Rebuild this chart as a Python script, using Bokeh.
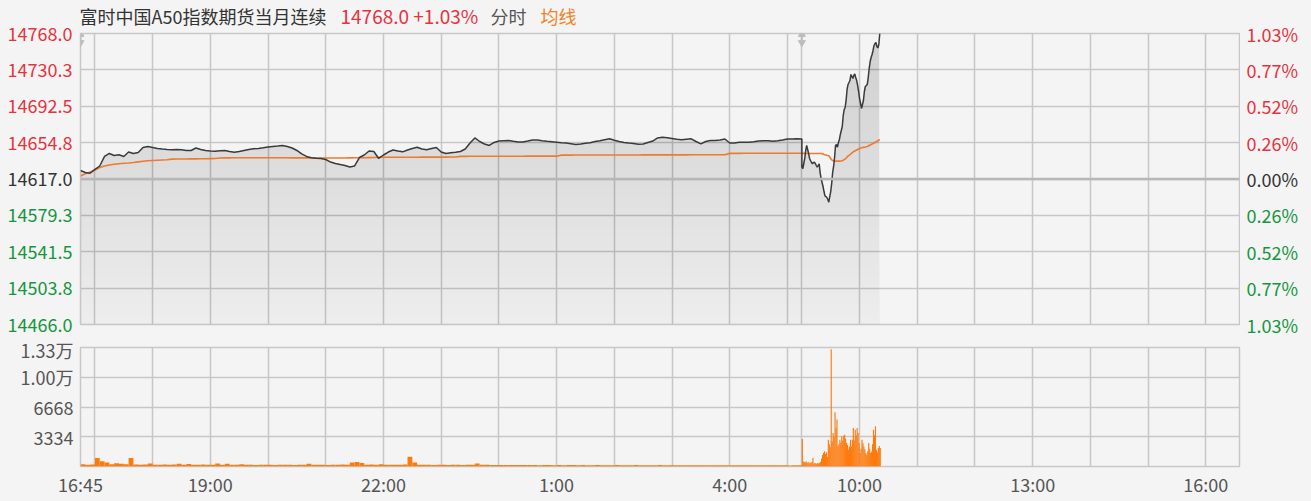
import numpy as np
from bokeh.plotting import figure
from bokeh.models import Range1d, FixedTicker, Grid, ColumnDataSource, Span
from bokeh.layouts import column, row
from bokeh.core.properties import value, field
from bokeh.embed import file_html
from bokeh.resources import INLINE

# ---------------- data ----------------
title_name = "富时中国A50指数期货当月连续"
title_quote = "14768.0 +1.03%"
title_mode = "分时"
title_avg = "均线"

base_price = 14617.0
session_end = 1205          # minutes since 16:45 (night 16:45-5:15, day 9:00-16:35)
session_break = 750

price_levels = [14466.0, 14503.75, 14541.5, 14579.25, 14617.0, 14654.75, 14692.5, 14730.25, 14768.0]
price_labels = ["14466.0", "14503.8", "14541.5", "14579.3", "14617.0", "14654.8", "14692.5", "14730.3", "14768.0"]
pct_labels = ["1.03%", "0.77%", "0.52%", "0.26%", "0.00%", "0.26%", "0.52%", "0.77%", "1.03%"]

x_tick_minutes = [0, 135, 315, 495, 675, 810, 990, 1170]
x_tick_labels = ["16:45", "19:00", "22:00", "1:00", "4:00", "10:00", "13:00", "16:00"]
grid_minutes = [15, 75, 135, 195, 255, 315, 375, 435, 495, 555, 615, 675, 735, 750,
                810, 870, 930, 990, 1050, 1110, 1170]

vol_max = 13336
vol_ticks = [3334, 6668, 10002, 13336]
vol_tick_labels = ["3334", "6668", "1.00万", "1.33万"]

# night session sampled every 5 minutes (16:45 .. 5:15)
night_minutes = list(range(0, 751, 5))
night_price = [
    14625.8, 14623.7, 14623.0, 14626.9, 14630.5, 14640.4, 14643.5, 14641.4, 14642.1, 14640.4,
    14645.0, 14643.5, 14644.5, 14649.7, 14650.7, 14649.7, 14648.7, 14648.1, 14647.6, 14647.3,
    14647.6, 14647.3, 14646.6, 14646.6, 14649.2, 14647.6, 14646.6, 14646.1, 14645.9, 14646.3,
    14646.6, 14645.5, 14644.8, 14645.5, 14646.6, 14647.6, 14648.4, 14648.7, 14649.4, 14650.2,
    14650.7, 14651.2, 14651.8, 14650.7, 14649.2, 14646.6, 14643.0, 14640.4, 14639.0, 14638.5,
    14638.3, 14637.2, 14634.6, 14633.1, 14632.0, 14631.0, 14629.5, 14630.5, 14639.3, 14641.9,
    14646.1, 14645.5, 14638.3, 14641.9, 14645.0, 14647.1, 14646.1, 14645.2, 14647.1, 14648.7,
    14649.9, 14648.1, 14647.3, 14648.7, 14649.7, 14645.0, 14643.5, 14644.2, 14644.7, 14645.5,
    14648.1, 14654.4, 14659.6, 14655.9, 14653.3, 14651.8, 14654.9, 14656.4, 14656.8, 14657.0,
    14656.1, 14655.4, 14655.4, 14656.4, 14657.5, 14657.5, 14656.8, 14656.2, 14655.7, 14655.2,
    14654.7, 14654.3, 14653.6, 14652.8, 14653.3, 14654.1, 14654.7, 14655.9, 14656.8, 14657.8,
    14658.7, 14657.2, 14655.9, 14654.9, 14654.3, 14653.8, 14653.0, 14653.3, 14654.9, 14656.4,
    14659.6, 14660.3, 14659.8, 14659.0, 14658.2, 14657.7, 14658.2, 14658.7, 14655.9, 14653.5,
    14655.9, 14657.0, 14657.0, 14657.5, 14658.5, 14654.4, 14654.4, 14655.2, 14655.2, 14655.2,
    14655.6, 14656.4, 14656.8, 14656.7, 14656.3, 14656.7, 14657.5, 14658.6, 14658.6, 14658.7,
    14658.5]
night_avg = [
    14620.1, 14622.4, 14624.3, 14626.3, 14628.9, 14630.5, 14631.5, 14632.3, 14632.9, 14633.3,
    14633.6, 14634.1, 14634.8, 14635.4, 14635.9, 14636.2, 14636.5, 14636.7, 14636.9, 14637.6,
    14637.7, 14637.8, 14637.8, 14637.9, 14637.9, 14638.0, 14638.0, 14638.1, 14638.2, 14638.8,
    14638.9, 14638.9, 14639.0, 14639.0, 14639.0, 14639.0, 14639.1, 14639.1, 14639.1, 14639.0,
    14639.0, 14639.0, 14639.0, 14639.0, 14638.9, 14638.9, 14638.9, 14638.9, 14638.8, 14638.8,
    14638.8, 14638.8, 14638.8, 14638.8, 14638.8, 14638.8, 14638.9, 14639.0, 14639.0, 14639.1,
    14639.2, 14639.3, 14639.5, 14639.5, 14639.6, 14639.6, 14639.6, 14639.6, 14639.6, 14639.6,
    14639.6, 14639.7, 14639.7, 14639.7, 14639.7, 14639.7, 14639.7, 14639.8, 14639.8, 14640.5,
    14640.5, 14640.6, 14640.6, 14640.6, 14640.6, 14640.6, 14640.6, 14640.6, 14640.6, 14640.6,
    14640.6, 14640.6, 14640.6, 14640.7, 14640.7, 14640.7, 14640.7, 14640.7, 14640.7, 14640.7,
    14641.8, 14641.8, 14641.8, 14641.9, 14641.9, 14641.9, 14641.9, 14641.9, 14641.9, 14641.9,
    14641.9, 14641.9, 14641.9, 14641.9, 14641.9, 14641.9, 14641.9, 14642.0, 14642.0, 14642.0,
    14642.0, 14642.0, 14642.0, 14642.0, 14642.0, 14642.0, 14642.0, 14642.1, 14642.1, 14642.1,
    14642.1, 14642.1, 14642.1, 14642.1, 14642.1, 14643.6, 14643.6, 14643.6, 14643.7, 14643.7,
    14643.7, 14643.7, 14643.7, 14643.7, 14643.7, 14643.7, 14643.8, 14643.8, 14643.8, 14643.8,
    14643.8]
night_vol_minutes = list(range(0, 750, 5))
night_vol = [
    250, 200, 230, 960, 590, 440, 250, 370, 300, 250,
    960, 220, 200, 230, 330, 210, 190, 220, 200, 230,
    300, 210, 280, 200, 190, 220, 200, 210, 330, 190,
    300, 200, 210, 250, 190, 200, 180, 210, 190, 200,
    180, 200, 190, 210, 180, 200, 190, 300, 200, 190,
    210, 180, 200, 190, 220, 200, 450, 500, 400, 210,
    230, 200, 250, 190, 210, 200, 190, 220, 1100, 450,
    210, 200, 190, 180, 200, 190, 180, 200, 190, 180,
    200, 190, 350, 210, 190, 180, 170, 180, 170, 160,
    170, 180, 160, 170, 160, 150, 170, 160, 150, 160,
    150, 160, 170, 150, 160, 150, 140, 160, 150, 140,
    150, 160, 150, 140, 150, 160, 140, 150, 140, 150,
    160, 150, 140, 150, 140, 130, 150, 140, 130, 140,
    150, 140, 130, 140, 150, 140, 130, 140, 130, 150,
    140, 130, 140, 150, 130, 140, 130, 120, 130, 140]

# day session every minute (9:00 .. 10:21)
day_minutes = list(range(750, 832))
day_price = [
    14629.2, 14627.9, 14633.1, 14638.3, 14646.6, 14651.8, 14647.6, 14643.5, 14638.3, 14636.2,
    14634.1, 14632.8, 14634.1, 14634.4, 14633.1, 14631.0, 14629.2, 14631.0, 14632.8, 14623.7,
    14617.5, 14613.4, 14609.2, 14604.0, 14599.4, 14598.8, 14597.8, 14595.7, 14592.9, 14598.8,
    14604.0, 14612.3, 14623.7, 14630.0, 14639.3, 14651.8, 14652.8, 14650.0, 14654.9, 14658.0,
    14663.2, 14667.3, 14671.5, 14682.9, 14689.1, 14691.2, 14698.5, 14709.9, 14715.1, 14717.1,
    14719.2, 14725.5, 14723.4, 14721.3, 14724.4, 14726.0, 14722.3, 14719.2, 14714.0, 14707.8,
    14700.5, 14695.4, 14690.2, 14694.3, 14698.5, 14707.8, 14713.0, 14714.0, 14715.1, 14722.3,
    14731.7, 14738.9, 14743.1, 14746.2, 14750.4, 14755.5, 14757.6, 14758.7, 14754.5, 14753.0,
    14756.6, 14768.0]
day_avg = [
    14643.6, 14643.6, 14643.6, 14643.6, 14643.5, 14643.5, 14643.5, 14643.5, 14643.5, 14643.5,
    14643.5, 14643.5, 14643.5, 14643.5, 14643.5, 14643.5, 14643.5, 14643.5, 14643.5, 14643.4,
    14643.4, 14643.3, 14642.9, 14642.4, 14642.1, 14641.9, 14641.6, 14641.4, 14641.1, 14639.8,
    14638.3, 14636.9, 14636.2, 14635.9, 14635.7, 14635.5, 14635.5, 14635.5, 14635.6, 14635.6,
    14635.6, 14635.7, 14635.9, 14636.5, 14637.2, 14637.8, 14638.5, 14639.8, 14640.9, 14641.4,
    14642.2, 14643.2, 14644.0, 14644.8, 14645.5, 14646.1, 14646.6, 14647.1, 14647.6, 14648.1,
    14648.7, 14649.0, 14649.4, 14649.6, 14649.8, 14650.0, 14650.2, 14650.5, 14650.7, 14651.2,
    14651.8, 14652.3, 14652.8, 14653.3, 14653.8, 14654.2, 14654.9, 14655.6, 14656.2, 14656.7,
    14657.4, 14658.0]
day_vol = [
    3080, 560, 500, 450, 600, 400, 500, 350, 450, 400,
    500, 940, 300, 400, 350, 300, 380, 350, 420, 500,
    900, 1300, 1500, 1700, 1400, 1600, 1100, 3000, 2500, 2200,
    13150, 2800, 3760, 3300, 6080, 4300, 5260, 2250, 2500, 3000,
    2700, 3380, 2900, 3450, 3570, 3100, 2630, 2400, 1880, 2200,
    3000, 2250, 3000, 4320, 2900, 4130, 3500, 4320, 3760, 2600,
    1500, 2000, 3000, 2600, 2250, 1900, 1500, 1310, 1700, 2630,
    2000, 1500, 1690, 2500, 4130, 3500, 4500, 1880, 1600, 2070,
    2300, 2070]

handle_minutes = [0, 750]

# ---------------- style ----------------
FONT = "Noto Sans CJK SC"
BG = "#f4f4f4"
GRID = "#c7c7c7"
RED = "#e5333f"
GREEN = "#16963f"
DARK = "#333333"
AXIS_TXT = "#555555"
LINE = "#3a3a3a"
AVG = "#ee7a2e"
VOLC = "#fd7b0d"
FS = "18px"

# layout geometry (pixels)
W_LEFT, W_RIGHT, W_FRAME = 80, 66, 1159
HEAD_H = 30
FRAME_TOP, FRAME_H, BOT_B = 33, 291, 12
TOP_B = FRAME_TOP - HEAD_H
PRICE_H = TOP_B + FRAME_H + BOT_B
SIDE_H = FRAME_TOP + FRAME_H + BOT_B

price_x = night_minutes + day_minutes
price_y = np.array(night_price + day_price)
avg_y = night_avg + day_avg
y_lo, y_hi = price_levels[0], price_levels[-1]
k = (y_hi - y_lo) / FRAME_H            # price units per pixel

x_range = Range1d(0, session_end)
price_range = Range1d(y_lo, y_hi)
label_range = Range1d(y_lo - BOT_B * k, y_hi + FRAME_TOP * k)


def bare(width, height, xr, yr):
    f = figure(width=width, height=height, x_range=xr, y_range=yr,
               x_axis_location=None, y_axis_location=None, toolbar_location=None,
               output_backend="svg", min_border=0, min_border_left=0, min_border_right=0,
               min_border_top=0, min_border_bottom=0, background_fill_color=BG,
               border_fill_color=BG, outline_line_color=None)
    f.center = [c for c in f.center if not isinstance(c, Grid)]
    try:
        f.frame_align = False
    except Exception:
        pass
    return f


# ---------------- header ----------------
head = bare(W_FRAME + 2, HEAD_H, Range1d(W_LEFT - 1, W_LEFT + W_FRAME + 1), Range1d(0, HEAD_H))
head_src = ColumnDataSource(dict(x=[79, 340, 490, 540], y=[HEAD_H - 15] * 4,
                                 text=[title_name, title_quote, title_mode, title_avg],
                                 color=[DARK, RED, "#555555", "#f0831f"],
                                 size=["18px", "19px", "18px", "18px"]))
head.text(x="x", y="y", text="text", source=head_src, text_color=field("color"),
          text_font=value(FONT), text_font_size=field("size"),
          text_align="left", text_baseline="middle")

# ---------------- price panel ----------------
p = figure(width=W_FRAME + 2, height=PRICE_H, x_range=x_range, y_range=price_range,
           x_axis_location=None, y_axis_location=None, toolbar_location=None,
           output_backend="svg", min_border_left=1, min_border_right=1,
           min_border_top=TOP_B, min_border_bottom=BOT_B,
           background_fill_color=BG, border_fill_color=BG,
           outline_line_color=GRID, outline_line_width=1.5)
p.center = [c for c in p.center if not isinstance(c, Grid)]
p.add_layout(Grid(dimension=0, ticker=FixedTicker(ticks=grid_minutes),
                  grid_line_color=GRID, grid_line_width=1.5))
p.add_layout(Grid(dimension=1, ticker=FixedTicker(ticks=price_levels),
                  grid_line_color=GRID, grid_line_width=1.5))

# gradient-like fill under the price line (stacked translucent layers)
p.varea(x=price_x, y1=y_lo, y2=price_y, fill_color="black", fill_alpha=0.027)
n_layers = 30
for lvl in np.linspace(y_lo, y_hi, n_layers + 1)[1:-1]:
    p.varea(x=price_x, y1=lvl, y2=np.maximum(price_y, lvl), fill_color="black", fill_alpha=0.0055)

p.add_layout(Span(location=base_price, dimension="width", line_color="#b7b7b7", line_width=2.5))

p.line(price_x, avg_y, line_color=AVG, line_width=1.6)
p.line(price_x, price_y, line_color=LINE, line_width=1.5)

# session drag handles
p.segment(x0=handle_minutes, y0=[y_hi - 1.5] * 2, x1=handle_minutes, y1=[y_hi - 9.0] * 2,
          line_color="#bdbdbd", line_width=2)
p.scatter(handle_minutes, [y_hi - 1.0] * 2, marker="triangle", size=7, color="#bdbdbd")
p.scatter(handle_minutes, [y_hi - 9.5] * 2, marker="inverted_triangle", size=7, color="#bdbdbd")

# ---------------- price tick labels (coloured by side of base price) ----------------
level_colors = [RED if lv > base_price else (DARK if lv == base_price else GREEN) for lv in price_levels]
lp = bare(W_LEFT - 1, SIDE_H, Range1d(0, W_LEFT - 1), label_range)
lp.text(x=[W_LEFT - 8] * len(price_levels), y=price_levels, text=price_labels,
        text_color=level_colors, text_font=value(FONT), text_font_size=value(FS),
        text_align="right", text_baseline="middle")
rp = bare(W_RIGHT - 1, SIDE_H, Range1d(0, W_RIGHT - 1), label_range)
rp.text(x=[6] * len(price_levels), y=price_levels, text=pct_labels,
        text_color=level_colors, text_font=value(FONT), text_font_size=value(FS),
        text_align="left", text_baseline="middle")

# ---------------- volume panel ----------------
v = figure(width=W_LEFT + W_FRAME + W_RIGHT, height=163, x_range=x_range, y_range=Range1d(0, vol_max),
           toolbar_location=None, output_backend="svg",
           min_border_left=W_LEFT, min_border_right=W_RIGHT, min_border_top=11, min_border_bottom=32,
           background_fill_color=BG, border_fill_color=BG,
           outline_line_color=GRID, outline_line_width=1.5)
v.center = [c for c in v.center if not isinstance(c, Grid)]
v.add_layout(Grid(dimension=0, ticker=FixedTicker(ticks=grid_minutes),
                  grid_line_color=GRID, grid_line_width=1.5))
v.add_layout(Grid(dimension=1, ticker=FixedTicker(ticks=vol_ticks[:-1]),
                  grid_line_color=GRID, grid_line_width=1.5))

v.vbar(x=[m + 2.5 for m in night_vol_minutes], top=night_vol, width=5, bottom=0,
       fill_color=VOLC, line_color=None)
v.vbar(x=[m + 0.5 for m in day_minutes], top=day_vol, width=1.2, bottom=0,
       fill_color=VOLC, line_color=None)

xa = v.xaxis[0]
xa.ticker = FixedTicker(ticks=x_tick_minutes)
xa.major_label_overrides = {t: s for t, s in zip(x_tick_minutes, x_tick_labels)}
ya = v.yaxis[0]
ya.ticker = FixedTicker(ticks=vol_ticks)
ya.major_label_overrides = {t: s for t, s in zip(vol_ticks, vol_tick_labels)}
for ax in (xa, ya):
    ax.axis_line_color = None
    ax.major_tick_line_color = None
    ax.minor_tick_line_color = None
    ax.major_tick_out = 0
    ax.major_tick_in = 0
    ax.major_label_text_color = AXIS_TXT
    ax.major_label_text_font = FONT
    ax.major_label_text_font_size = FS
xa.major_label_standoff = 4
ya.major_label_standoff = 7

kw = {}
try:
    from bokeh.models import GlobalInlineStyleSheet
    kw["stylesheets"] = [GlobalInlineStyleSheet(
        css="html, body { margin: 0; padding: 0; background-color: #f4f4f4; }")]
except Exception:
    pass

layout = column(row(lp, column(head, p), rp), v, **kw)
open("out.html", "w").write(file_html(layout, INLINE))
